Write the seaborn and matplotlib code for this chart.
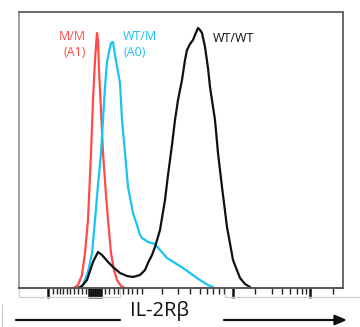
import numpy as np
import pandas as pd
import matplotlib
matplotlib.use("Agg")
import matplotlib.pyplot as plt
from matplotlib.lines import Line2D
import seaborn as sns

# ---- data (x: fluorescence channel 0-324, y: relative count) ----
red_x = [55, 59, 63, 66, 69, 72, 74, 76, 78, 79, 80, 82, 84, 87, 89, 92, 95, 98, 102, 106]
red_y = [0, 3, 13, 35, 68, 135, 188, 228, 255, 248, 218, 178, 135, 93, 68, 35, 18, 8, 2, 0]

cyan_x = [61, 64, 69, 73, 76, 79, 82, 84, 86, 88, 90, 92, 94, 96, 99, 101, 103, 106, 109, 114,
          118, 121, 123, 129, 136, 141, 148, 156, 164, 171, 178, 184, 189, 194]
cyan_y = [0, 3, 16, 35, 68, 103, 135, 168, 201, 226, 236, 245, 246, 233, 216, 205, 168, 135, 101, 75,
          63, 53, 50, 46, 44, 38, 30, 25, 20, 15, 10, 6, 3, 1]

black_x = [59, 63, 68, 74, 79, 83, 89, 94, 101, 108, 114, 121, 126, 129, 133, 136, 141, 146, 149, 153,
           156, 159, 163, 166, 168, 171, 174, 176, 179, 181, 183, 186, 189, 191, 196, 199, 203, 208, 214, 221,
           226, 231]
black_y = [0, 2, 8, 26, 36, 33, 26, 21, 15, 12, 11, 13, 18, 25, 33, 41, 58, 88, 113, 143,
           168, 188, 208, 228, 238, 244, 248, 253, 260, 258, 255, 241, 220, 201, 168, 135, 101, 61, 28, 10,
           4, 1]

series_names = ["M/M", "WT/M", "WT/WT"]
series_colors = ["#ff4a4a", "#19c3f2", "#111111"]

major_ticks = [29, 70, 72, 74, 76, 78, 80, 82, 214, 291]
minor_ticks = [34, 38, 41, 44, 48, 51, 55, 59, 63, 67, 86, 90, 95, 99, 104, 109, 113, 118, 123,
               143, 159, 171, 181, 188, 194, 200, 205, 236, 253, 263, 271, 278, 283, 287, 314]

axis_label = "IL-2R\u03b2"

# ---- build frame ----
df = pd.concat([
    pd.DataFrame({"x": red_x, "y": red_y, "group": series_names[0]}),
    pd.DataFrame({"x": cyan_x, "y": cyan_y, "group": series_names[1]}),
    pd.DataFrame({"x": black_x, "y": black_y, "group": series_names[2]}),
], ignore_index=True)

sns.set_style("white")
plt.rcParams["font.family"] = ["Open Sans", "DejaVu Sans"]

W, H = 360, 327
fig = plt.figure(figsize=(W / 100, H / 100), dpi=100)
ax = fig.add_axes([19 / W, (H - 288) / H, (343 - 19) / W, (288 - 12) / H])

sns.lineplot(data=df, x="x", y="y", hue="group", hue_order=series_names,
             palette=dict(zip(series_names, series_colors)), sort=False,
             estimator=None, linewidth=1.6, legend=False, ax=ax)

ax.set_xlim(0, 324)
ax.set_ylim(0, 276)
ax.set_xlabel("")
ax.set_ylabel("")
ax.set_yticks([])
ax.set_xticks(major_ticks)
ax.set_xticks(minor_ticks, minor=True)
ax.set_xticklabels([])
ax.tick_params(axis="x", which="major", direction="out", length=7, width=1.8, color="#111111", bottom=True)
ax.tick_params(axis="x", which="minor", direction="out", length=4.5, width=1.0, color="#222222", bottom=True)

for side, col in [("top", "#6a6a6a"), ("right", "#6a6a6a"), ("bottom", "#555555"), ("left", "#a0a0a0")]:
    ax.spines[side].set_visible(True)
    ax.spines[side].set_color(col)
    ax.spines[side].set_linewidth(1.4)

# ---- series labels ----
ax.text(67, 252, "M/M", color=series_colors[0], fontsize=9, ha="right", va="center")
ax.text(67, 236, "(A1)", color=series_colors[0], fontsize=9, ha="right", va="center")
ax.text(104, 252, "WT/M", color=series_colors[1], fontsize=9, ha="left", va="center")
ax.text(104, 236, "(A0)", color=series_colors[1], fontsize=9, ha="left", va="center")
ax.text(194, 249, "WT/WT", color="#111111", fontsize=9, ha="left", va="center")

# ---- light artefact outlines below the axis ----
def fx(px):
    return px / W

def fy(py):
    return 1 - py / H

for xs, ys in [([19, 19, 120, 120], [289, 297, 297, 289]),
               ([225, 225, 360], [289, 297, 297]),
               ([2, 2], [304, 327])]:
    fig.add_artist(Line2D([fx(v) for v in xs], [fy(v) for v in ys],
                          color="#d0d0d0", linewidth=0.9))

# ---- axis title with arrow ----
fig.text(fx(160), fy(311), axis_label, fontsize=14.5, ha="center", va="center", color="#111111")
fig.add_artist(Line2D([fx(16), fx(120)], [fy(320), fy(320)], color="#111111", linewidth=1.6))
ax.annotate("", xy=(fx(347), fy(320)), xycoords="figure fraction",
            xytext=(fx(224), fy(320)), textcoords="figure fraction",
            arrowprops=dict(arrowstyle="-|>,head_length=0.7,head_width=0.3",
                            color="#111111", lw=1.6, shrinkA=0, shrinkB=0))

fig.savefig("out.png", dpi=100)
